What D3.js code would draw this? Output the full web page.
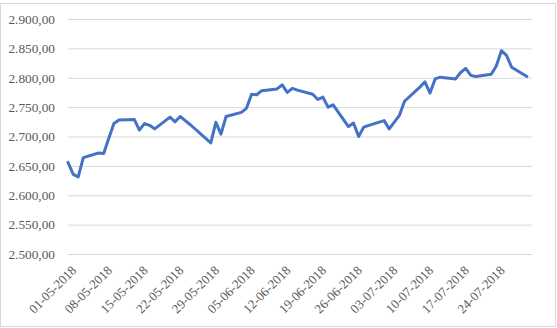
<!DOCTYPE html>
<html lang="en">
<head>
<meta charset="UTF-8">
<script src="https://d3js.org/d3.v7.min.js"></script>
<style>
  html, body { margin: 0; background: #fff; }
  svg { display: block; }
</style>
</head>
<body>
<div id="chart"></div>
<script>
// daily closes
var dates = [
  "01-05-2018","02-05-2018","03-05-2018","04-05-2018","07-05-2018","08-05-2018","09-05-2018",
  "10-05-2018","11-05-2018","14-05-2018","15-05-2018","16-05-2018","17-05-2018","18-05-2018",
  "21-05-2018","22-05-2018","23-05-2018","24-05-2018","25-05-2018","29-05-2018","30-05-2018",
  "31-05-2018","01-06-2018","04-06-2018","05-06-2018","06-06-2018","07-06-2018","08-06-2018",
  "11-06-2018","12-06-2018","13-06-2018","14-06-2018","15-06-2018","18-06-2018","19-06-2018",
  "20-06-2018","21-06-2018","22-06-2018","25-06-2018","26-06-2018","27-06-2018","28-06-2018",
  "29-06-2018","02-07-2018","03-07-2018","05-07-2018","06-07-2018","09-07-2018","10-07-2018",
  "11-07-2018","12-07-2018","13-07-2018","16-07-2018","17-07-2018","18-07-2018","19-07-2018",
  "20-07-2018","23-07-2018","24-07-2018","25-07-2018","26-07-2018","27-07-2018","30-07-2018"
];
var values = [
  2656, 2636, 2631, 2664, 2672, 2671, 2697,
  2722, 2728, 2729, 2711, 2722, 2719, 2713,
  2733, 2725, 2734, 2727, 2720, 2689, 2724,
  2704, 2734, 2741, 2748, 2772, 2771, 2778,
  2781, 2788, 2775, 2782, 2779, 2772, 2763,
  2767, 2750, 2754, 2717, 2723, 2700, 2716,
  2719, 2727, 2713, 2736, 2760, 2784, 2793,
  2774, 2798, 2801, 2798, 2809, 2816, 2804,
  2802, 2806, 2820, 2846, 2838, 2818, 2802
];
var xTickLabels = ["01-05-2018","08-05-2018","15-05-2018","22-05-2018","29-05-2018","05-06-2018",
  "12-06-2018","19-06-2018","26-06-2018","03-07-2018","10-07-2018","17-07-2018","24-07-2018"];
var yTicks = [2500, 2550, 2600, 2650, 2700, 2750, 2800, 2850, 2900];

var W = 557, H = 328;
var margin = {top: 19, left: 68, right: 25, bottom: 74};
var iw = W - margin.left - margin.right, ih = H - margin.top - margin.bottom;
var FONT = "'Liberation Serif', 'Times New Roman', serif";

var parse = d3.timeParse("%d-%m-%Y");
var data = dates.map(function (d, i) { return {date: parse(d), value: values[i]}; });

var svg = d3.select("#chart").append("svg").attr("width", W).attr("height", H);

// chart frame
svg.append("rect")
  .attr("x", 0.5).attr("y", 3.5).attr("width", 555).attr("height", 323)
  .attr("fill", "none").attr("stroke", "#d9d9d9");

var g = svg.append("g").attr("transform", "translate(" + margin.left + "," + margin.top + ")");

var x = d3.scaleTime().domain([parse("01-05-2018"), parse("31-07-2018")]).range([0, iw]);
var y = d3.scaleLinear().domain([2500, 2900]).range([ih, 0]);

var fmt = d3.formatLocale({decimal: ",", thousands: ".", grouping: [3], currency: ["", ""]}).format(",.2f");

// gridlines + y labels
var yAxis = d3.axisLeft(y).tickValues(yTicks).tickSize(-iw).tickPadding(13).tickFormat(fmt);
g.append("g").call(yAxis)
  .attr("font-family", FONT)
  .call(function (a) {
    a.select(".domain").remove();
    a.selectAll("line").attr("stroke", "#d9d9d9");
    a.selectAll("text")
      .style("font-family", FONT)
      .style("font-size", "13.3px")
      .attr("fill", "#595959");
  });

// x labels, rotated
var xg = g.append("g").attr("transform", "translate(0," + ih + ")");
xg.selectAll("text")
  .data(xTickLabels)
  .enter()
  .append("text")
  .attr("transform", function (d) {
    return "translate(" + (x(parse(d)) + 6) + ",14) rotate(-45)";
  })
  .attr("text-anchor", "end")
  .attr("dy", "0.35em")
  .attr("fill", "#595959")
  .style("font-family", FONT)
  .style("font-size", "13px")
  .text(function (d) { return d; });

var line = d3.line()
  .x(function (d) { return x(d.date); })
  .y(function (d) { return y(d.value); });

g.append("path")
  .datum(data)
  .attr("d", line)
  .attr("fill", "none")
  .attr("stroke", "#4472c4")
  .attr("stroke-width", 3)
  .attr("stroke-linejoin", "round")
  .attr("stroke-linecap", "round");
</script>
</body>
</html>
